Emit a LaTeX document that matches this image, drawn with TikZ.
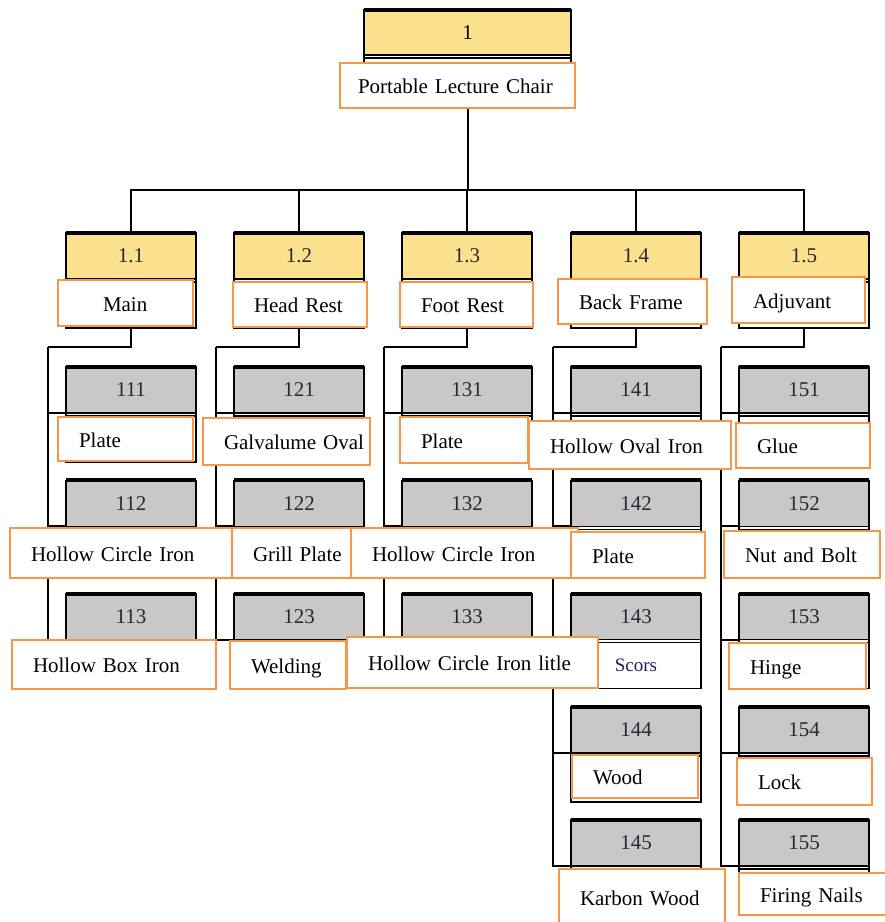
\documentclass[tikz,border=0pt]{standalone}
\usepackage{fontspec}
\setmainfont{Liberation Serif}
\usetikzlibrary{positioning}

\definecolor{tagorange}{RGB}{247,150,70}
\definecolor{hdyellow}{RGB}{251,224,142}
\definecolor{hdgray}{RGB}{200,200,200}
\definecolor{numink}{RGB}{40,40,52}

\tikzset{
    header/.style={draw=black, line width=1.5pt, minimum width=130pt,
        minimum height=46pt, inner sep=0pt, outer sep=0pt,
        anchor=north west, text=numink, font=\fontsize{21}{23}\selectfont},
    lower/.style={draw=black, line width=1.5pt, fill=white,
        minimum width=130pt, minimum height=46pt, inner sep=0pt,
        outer sep=0pt},
    tag/.style={draw=tagorange, line width=2pt, fill=white, inner sep=0pt,
        outer sep=0pt, anchor=north west, align=left, text height=18pt,
        text depth=2pt, font=\fontsize{21}{24}\selectfont},
    link/.style={line width=2pt}
}

% a card: header with number, empty lower part below it
\newcommand\card[5]{%
    \node[header, fill=#4] (h#1) at (#2,#3) {#5};
    \node[lower, below=3pt of h#1.south west, anchor=north west] (l#1) {};
    \draw[line width=1.5pt] (h#1.south west) -- (l#1.north west)
        (h#1.south east) -- (l#1.north east);
    \draw[line width=4pt] (h#1.north west) -- (h#1.north east);
}

% an orange name box, text set from its left side
\newcommand\tagbox[6]{%
    \pgfmathsetmacro\tagw{#4 - #2}%
    \pgfmathsetmacro\tagh{#5 - #3}%
    \node[tag, text width=\tagw pt, minimum height=\tagh pt] (#1)
        at (#2,#3) {\hspace*{21pt}#6};
}

\begin{document}
\begin{tikzpicture}[x=1pt, y=-1pt]
    \useasboundingbox[fill=white] (0,0) rectangle (885,922);

    % the chair
    \node[header, fill=hdyellow, minimum width=207pt, minimum height=45pt,
        text=black] (h1) at (364,10) {1};
    \node[lower, minimum width=207pt, minimum height=48pt,
        below=3pt of h1.south west, anchor=north west] (l1) {};
    \draw[line width=1.5pt] (h1.south west) -- (l1.north west)
        (h1.south east) -- (l1.north east);
    \draw[line width=4pt] (h1.north west) -- (h1.north east);

    % the five parts and their pieces
    \coordinate (bus) at (0,190);
    \foreach \c/\x/\n in {1/66/3, 2/234/3, 3/402/3, 4/571/5, 5/739/5} {
        \card{1\c}{\x}{233}{hdyellow}{1.\c}
        \coordinate (rail\c) at ({\x - 18},347);
        \foreach \r in {1,...,\n}
            \card{1\c\r}{\x}{{367 + 113.25 * (\r - 1)}}{hdgray}{1\c\r};
    }
    \node[text=numink!80!blue, font=\fontsize{19}{20}\selectfont]
        (s143) at (l143) {Scors};

    % connectors
    \foreach \c/\n in {1/3, 2/3, 3/3, 4/5, 5/5} {
        \draw[link] (l1.south) -- (l1.south |- bus) -| (h1\c.north);
        \draw[link] (l1\c.south) |- (rail\c);
        \foreach \r in {1,...,\n}
            \draw[link] (rail\c) |- (h1\c\r.south west);
    }

    % names
    \tagbox{t1}{340}{63}{575}{108}{\hspace*{-3pt}Portable Lecture Chair}
    \tagbox{t11}{58}{280}{193}{326}{\hspace*{24pt}Main}
    \tagbox{t12}{233}{282}{367}{327}{Head Rest}
    \tagbox{t13}{400}{282}{533}{327}{Foot Rest}
    \tagbox{t14}{558}{279}{707}{324}{Back Frame}
    \tagbox{t15}{732}{277}{865}{323}{Adjuvant}

    \tagbox{t111}{58}{417}{193}{461}{Plate}
    \tagbox{t112}{10}{528}{238}{578}{Hollow Circle Iron}
    \tagbox{t113}{12}{640}{216}{689}{Hollow Box Iron}

    \tagbox{t121}{203}{418}{370}{465}{Galvalume Oval}
    \tagbox{t122}{232}{528}{351}{578}{Grill Plate}
    \tagbox{t123}{230}{641}{346}{689}{Welding}

    \tagbox{t131}{400}{417}{528}{463}{Plate}
    \tagbox{t132}{351}{528}{578}{578}{Hollow Circle Iron}
    \tagbox{t133}{347}{637}{598}{688}{Hollow Circle Iron litle}

    \tagbox{t141}{529}{421}{731}{469}{Hollow Oval Iron}
    \tagbox{t142}{571}{532}{705}{578}{Plate}
    \tagbox{t144}{572}{755}{698}{798}{Wood}
    \tagbox{t145}{559}{869}{725}{926}{Karbon Wood}

    \tagbox{t151}{736}{423}{870}{468}{Glue}
    \tagbox{t152}{724}{531}{880}{578}{Nut and Bolt}
    \tagbox{t153}{729}{643}{866}{689}{Hinge}
    \tagbox{t154}{737}{758}{872}{805}{Lock}
    \tagbox{t155}{739}{873}{892}{915}{Firing Nails}
\end{tikzpicture}
\end{document}
